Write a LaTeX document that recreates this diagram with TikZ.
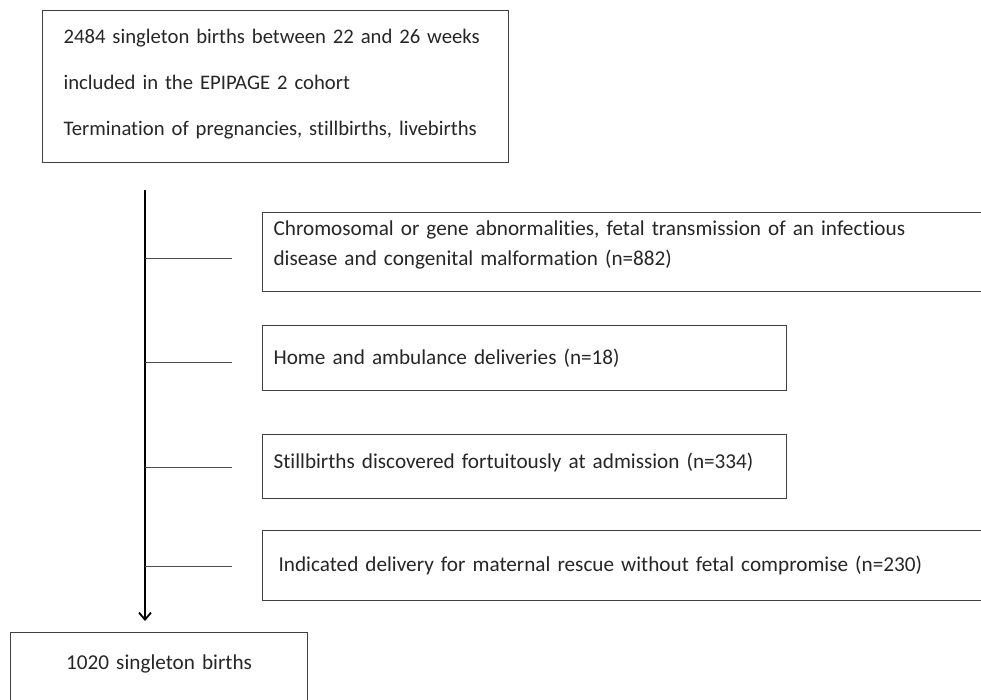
\documentclass[tikz,border=0pt]{standalone}
\usepackage{fontspec}
\setmainfont{Carlito}[Ligatures = NoCommon]
\usetikzlibrary{arrows.meta, positioning}

\begin{document}
\begin{tikzpicture}[x = 1pt, y = -1pt,
    box/.style = {draw = black!75, line width = 1.2pt, rectangle, anchor = north west,
        align = left, inner xsep = 11pt, text = black!85,
        font = \fontsize{21.2}{30}\selectfont},
    branch/.style = {draw = black!70, line width = 1.2pt}]
    % Frame
    \useasboundingbox (0,0) rectangle (981,699);
    % Boxes
    \node[box, inner xsep = 21pt, text width = 424pt, minimum height = 152pt, text depth = 101pt,
        font = \fontsize{20.7}{46}\selectfont] (cohort) at (42,10)
        {2484 singleton births between 22 and 26 weeks\\
         included in the EPIPAGE 2 cohort\\
         Termination of pregnancies, stillbirths, livebirths};
    \node[box, text width = 726pt, minimum height = 79pt, text depth = 47pt] (chromo) at (262,212)
        {Chromosomal or gene abnormalities, fetal transmission of an infectious\\
         disease and congenital malformation (n=882)};
    \node[box, text width = 502pt, minimum height = 65pt] (home) at (262,325)
        {Home and ambulance deliveries (n=18)};
    \node[box, text width = 502pt, minimum height = 64pt, text depth = 11pt] (still) at (262,434)
        {Stillbirths discovered fortuitously at admission (n=334)};
    \node[box, inner xsep = 16pt, text width = 716pt, minimum height = 70pt] (rescue) at (262,530)
        {Indicated delivery for maternal rescue without fetal compromise (n=230)};
    \node[box, align = center, text width = 275pt, inner ysep = 22pt, text depth = 70pt] (final) at (10,632)
        {1020 singleton births};
    % Trunk
    \coordinate (trunk top) at (145,190);
    \coordinate (trunk end) at (145,621);
    \draw[line width = 1.8pt, -{Straight Barb[length = 7pt, width = 12pt]}] (trunk top) -- (trunk end);
    % Branches
    \foreach \b/\dy in {chromo/6, home/4, still/1, rescue/1}
        \draw[branch] ([yshift = -\dy pt]trunk top |- \b.west) -- ([xshift = -30pt, yshift = -\dy pt]\b.west);
\end{tikzpicture}
\end{document}
